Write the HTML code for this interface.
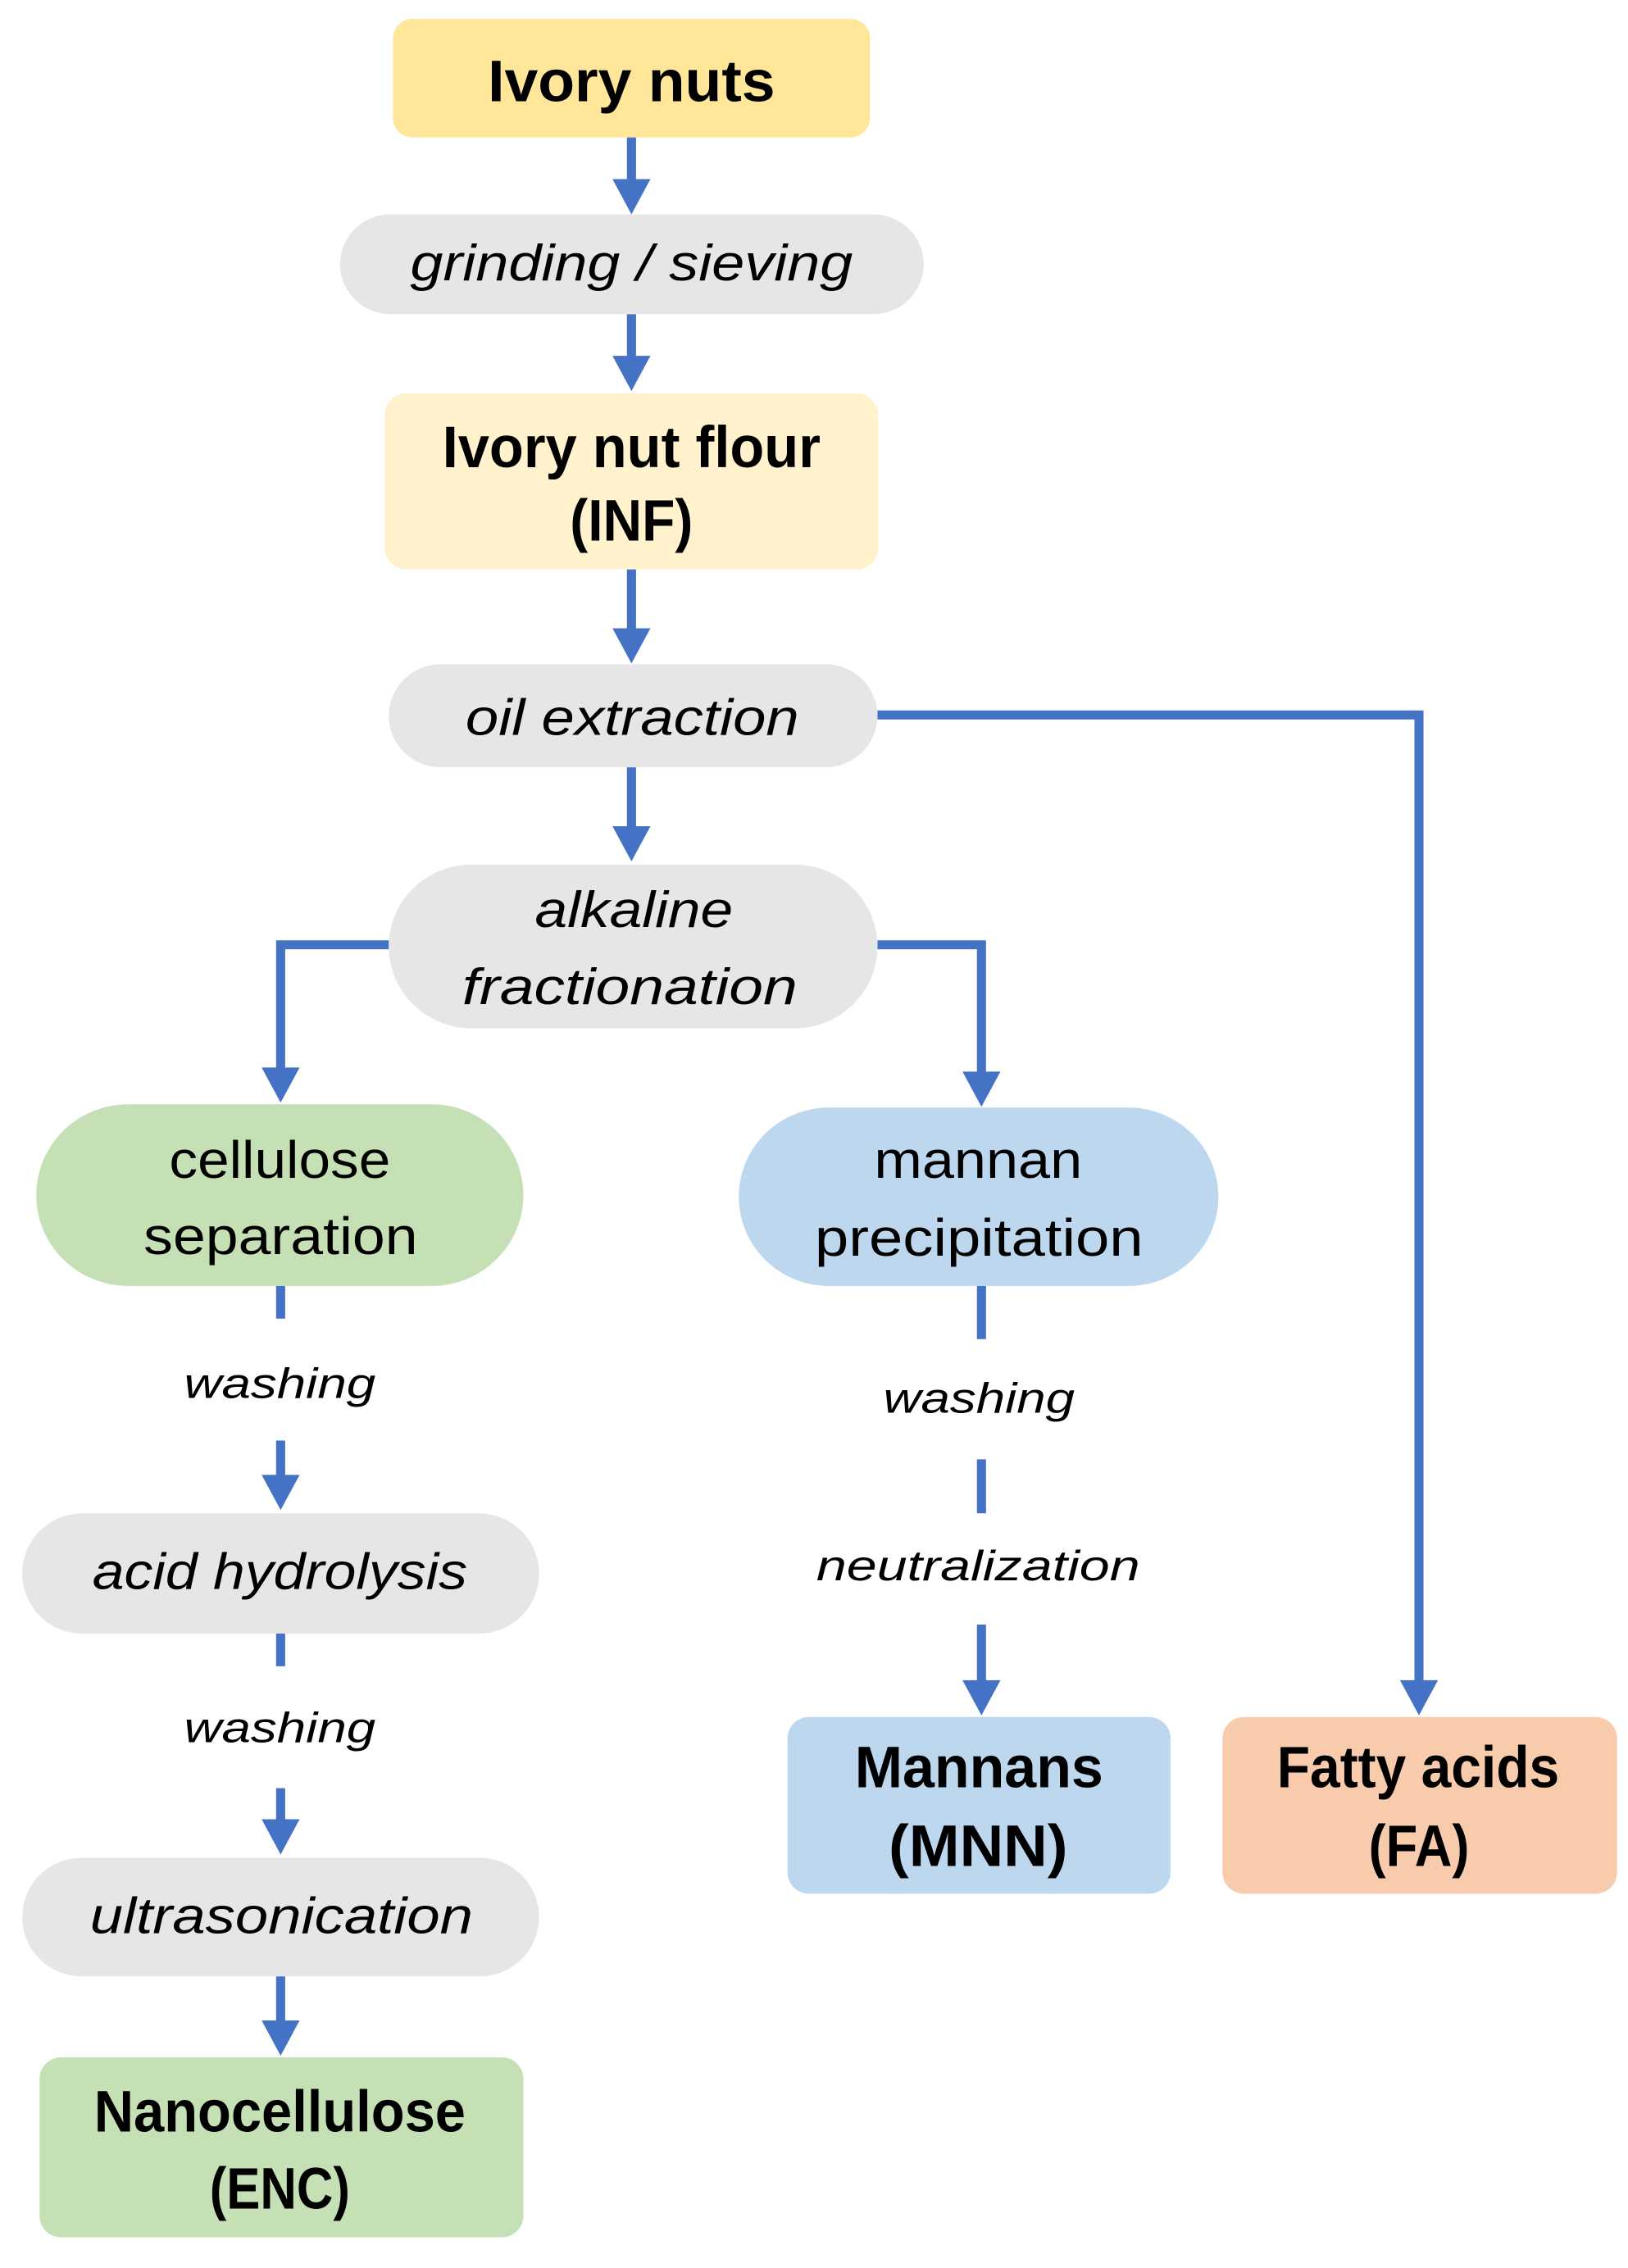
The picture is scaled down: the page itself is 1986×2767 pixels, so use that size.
<!DOCTYPE html>
<html><head><meta charset="utf-8"><style>
html,body{margin:0;padding:0;background:#fff;}
svg{display:block;}
text{font-family:"Liberation Sans",sans-serif;fill:#000;dominant-baseline:central;text-anchor:middle;}
.b{font-weight:bold;font-size:72px;}
.i{font-style:italic;font-size:62px;}
.s{font-style:italic;font-size:52px;}
.r{font-size:64px;}
</style></head><body>
<svg width="1986" height="2767" viewBox="0 0 1986 2767" xmlns="http://www.w3.org/2000/svg">
<g transform="translate(4,0) scale(1.007,0.998)">
<g fill="none" stroke="#4472C4" stroke-width="11">
<line x1="761" y1="168" x2="761" y2="222"/>
<line x1="761" y1="384" x2="761" y2="438"/>
<line x1="761" y1="696" x2="761" y2="771"/>
<line x1="761" y1="938" x2="761" y2="1013"/>
<polyline points="1059,874 1715,874 1715,2057"/>
<polyline points="467,1155 336,1155 336,1308"/>
<polyline points="1059,1155 1185,1155 1185,1313"/>
<line x1="336" y1="1572" x2="336" y2="1612"/>
<line x1="336" y1="1761" x2="336" y2="1806"/>
<line x1="336" y1="1997" x2="336" y2="2037"/>
<line x1="336" y1="2186" x2="336" y2="2227"/>
<line x1="336" y1="2416" x2="336" y2="2473"/>
<line x1="1185" y1="1572" x2="1185" y2="1637"/>
<line x1="1185" y1="1784" x2="1185" y2="1850"/>
<line x1="1185" y1="1986" x2="1185" y2="2057"/>
</g>
<g fill="#4472C4">
<polygon points="738,219 784,219 761,262"/>
<polygon points="738,435 784,435 761,478"/>
<polygon points="738,768 784,768 761,811"/>
<polygon points="738,1010 784,1010 761,1053"/>
<polygon points="1692,2054 1738,2054 1715,2097"/>
<polygon points="313,1305 359,1305 336,1348"/>
<polygon points="1162,1310 1208,1310 1185,1353"/>
<polygon points="313,1803 359,1803 336,1846"/>
<polygon points="313,2224 359,2224 336,2267"/>
<polygon points="313,2470 359,2470 336,2513"/>
<polygon points="1162,2054 1208,2054 1185,2097"/>
</g>
<rect x="472" y="23" width="578" height="145" rx="24" fill="#FFE699"/>
<rect x="408" y="262" width="707" height="122" rx="61" fill="#E7E6E6"/>
<rect x="462" y="481" width="598" height="215" rx="26" fill="#FFF2CC"/>
<rect x="467" y="812" width="592" height="126" rx="63" fill="#E7E6E6"/>
<rect x="467" y="1057" width="592" height="200" rx="100" fill="#E7E6E6"/>
<rect x="40" y="1350" width="590" height="222" rx="111" fill="#C5E0B4"/>
<rect x="891" y="1354" width="581" height="218" rx="109" fill="#BDD7EE"/>
<rect x="23" y="1850" width="626" height="147" rx="73" fill="#E7E6E6"/>
<rect x="23" y="2271" width="626" height="145" rx="72" fill="#E7E6E6"/>
<rect x="44" y="2515" width="586" height="220" rx="26" fill="#C5E0B4"/>
<rect x="950" y="2099" width="464" height="216" rx="26" fill="#BDD7EE"/>
<rect x="1477" y="2099" width="478" height="216" rx="26" fill="#F8CBAD"/>
<text class="b" x="761" y="100" textLength="348" lengthAdjust="spacingAndGlyphs">Ivory nuts</text>
<text class="i" x="761" y="322" textLength="536" lengthAdjust="spacingAndGlyphs">grinding / sieving</text>
<text class="b" x="761" y="547" textLength="458" lengthAdjust="spacingAndGlyphs">Ivory nut flour</text>
<text class="b" x="761" y="637" textLength="149" lengthAdjust="spacingAndGlyphs">(INF)</text>
<text class="i" x="762" y="878" textLength="404" lengthAdjust="spacingAndGlyphs">oil extraction</text>
<text class="i" x="764" y="1113" textLength="240" lengthAdjust="spacingAndGlyphs">alkaline</text>
<text class="i" x="759" y="1207" textLength="406" lengthAdjust="spacingAndGlyphs">fractionation</text>
<text class="r" x="335" y="1418" textLength="268" lengthAdjust="spacingAndGlyphs">cellulose</text>
<text class="r" x="336" y="1511" textLength="332" lengthAdjust="spacingAndGlyphs">separation</text>
<text class="r" x="1181" y="1418" textLength="252" lengthAdjust="spacingAndGlyphs">mannan</text>
<text class="r" x="1182" y="1513" textLength="398" lengthAdjust="spacingAndGlyphs">precipitation</text>
<text class="s" x="335" y="1692" textLength="232" lengthAdjust="spacingAndGlyphs">washing</text>
<text class="i" x="335" y="1922" textLength="454" lengthAdjust="spacingAndGlyphs">acid hydrolysis</text>
<text class="s" x="335" y="2113" textLength="232" lengthAdjust="spacingAndGlyphs">washing</text>
<text class="i" x="337" y="2343" textLength="464" lengthAdjust="spacingAndGlyphs">ultrasonication</text>
<text class="b" x="335" y="2582" textLength="450" lengthAdjust="spacingAndGlyphs">Nanocellulose</text>
<text class="b" x="335" y="2676" textLength="170" lengthAdjust="spacingAndGlyphs">(ENC)</text>
<text class="s" x="1182" y="1710" textLength="232" lengthAdjust="spacingAndGlyphs">washing</text>
<text class="s" x="1181" y="1915" textLength="392" lengthAdjust="spacingAndGlyphs">neutralization</text>
<text class="b" x="1182" y="2161" textLength="301" lengthAdjust="spacingAndGlyphs">Mannans</text>
<text class="b" x="1181" y="2257" textLength="217" lengthAdjust="spacingAndGlyphs">(MNN)</text>
<text class="b" x="1714" y="2161" textLength="342" lengthAdjust="spacingAndGlyphs">Fatty acids</text>
<text class="b" x="1715" y="2257" textLength="122" lengthAdjust="spacingAndGlyphs">(FA)</text>
</g>
</svg>
</body></html>
